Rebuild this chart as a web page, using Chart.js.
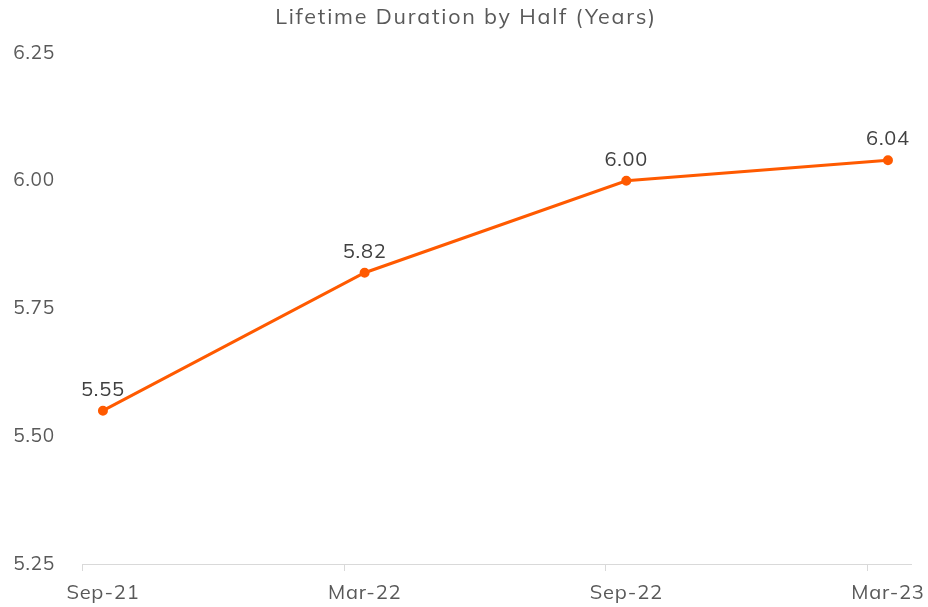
<!DOCTYPE html>
<html>
<head>
<meta charset="utf-8">
<script src="https://cdn.jsdelivr.net/npm/chart.js@4.4.1/dist/chart.umd.min.js"></script>
<style>
  html, body { margin: 0; padding: 0; background: #fff; }
  #wrap { width: 928px; height: 607px; }
</style>
</head>
<body>
<div id="wrap"><canvas id="durationChart"></canvas></div>
<script>
const halves = ['Sep-21', 'Mar-22', 'Sep-22', 'Mar-23'];
const durationYears = [5.55, 5.82, 6.00, 6.04];
const yTicks = [5.25, 5.50, 5.75, 6.00, 6.25];
const chartTitle = 'Lifetime Duration by Half (Years)';

const fontFamily = 'Mulish, "Noto Sans", sans-serif';

// slightly wider lettering, like the original font
const spacing = {
  id: 'spacing',
  beforeDraw(chart) { chart.ctx.letterSpacing = '0.8px'; },
  afterDraw(chart) { chart.ctx.letterSpacing = '0px'; }
};

// title drawn by hand so it can get its own letter spacing
const titleText = {
  id: 'titleText',
  afterDraw(chart) {
    const ctx = chart.ctx;
    ctx.save();
    ctx.letterSpacing = '1.8px';
    ctx.font = '21.5px ' + fontFamily;
    ctx.fillStyle = '#595959';
    ctx.textAlign = 'center';
    ctx.textBaseline = 'middle';
    ctx.fillText(chartTitle, chart.width / 2 + 2, 18);
    ctx.restore();
  }
};

// value labels above each point
const pointLabels = {
  id: 'pointLabels',
  afterDatasetsDraw(chart) {
    const ctx = chart.ctx;
    const meta = chart.getDatasetMeta(0);
    ctx.save();
    ctx.letterSpacing = '0.8px';
    ctx.font = '20px ' + fontFamily;
    ctx.fillStyle = '#404040';
    ctx.textAlign = 'center';
    ctx.textBaseline = 'middle';
    meta.data.forEach((pt, i) => {
      ctx.fillText(durationYears[i].toFixed(2), pt.x, pt.y - 21);
    });
    ctx.restore();
  }
};

// small tick marks on the x axis, sitting just left of each category
const xTickMarks = {
  id: 'xTickMarks',
  afterDraw(chart) {
    const x = chart.scales.x;
    const ctx = chart.ctx;
    ctx.save();
    ctx.strokeStyle = '#d9d9d9';
    ctx.lineWidth = 1;
    ctx.beginPath();
    halves.forEach((h, i) => {
      const px = Math.round(x.getPixelForValue(i - 0.08)) + 0.5;
      ctx.moveTo(px, x.top);
      ctx.lineTo(px, x.top + 7);
    });
    ctx.stroke();
    ctx.restore();
  }
};

new Chart(document.getElementById('durationChart'), {
  type: 'line',
  data: {
    datasets: [{
      label: 'Lifetime Duration',
      data: durationYears.map((v, i) => ({ x: i, y: v })),
      borderColor: '#FF5A00',
      backgroundColor: '#FF5A00',
      borderWidth: 3,
      pointRadius: 3.5,
      pointHoverRadius: 3.5,
      tension: 0
    }]
  },
  options: {
    responsive: true,
    maintainAspectRatio: false,
    animation: false,
    layout: { padding: { left: 0, right: 17, top: 53, bottom: 0 } },
    plugins: {
      legend: { display: false },
      tooltip: { enabled: false },
      title: { display: false }
    },
    scales: {
      x: {
        type: 'linear',
        min: -0.08,
        max: 3.088,
        afterBuildTicks: axis => { axis.ticks = halves.map((h, i) => ({ value: i })); },
        afterFit: axis => { axis.height = 43; axis.paddingLeft = 0; axis.paddingRight = 0; },
        ticks: {
          callback: v => halves[v],
          color: '#595959',
          font: { family: fontFamily, size: 20 },
          padding: 17,
          maxRotation: 0,
          autoSkip: false
        },
        grid: { display: false, drawTicks: false },
        border: { display: true, color: '#d9d9d9', width: 1 }
      },
      y: {
        min: 5.25,
        max: 6.25,
        afterBuildTicks: axis => { axis.ticks = yTicks.map(v => ({ value: v })); },
        afterFit: axis => { axis.width = 82; axis.paddingTop = 0; axis.paddingBottom = 0; },
        ticks: {
          callback: v => v.toFixed(2),
          color: '#595959',
          font: { family: fontFamily, size: 19 },
          padding: 27
        },
        grid: { display: false, drawTicks: false },
        border: { display: false }
      }
    }
  },
  plugins: [spacing, titleText, pointLabels, xTickMarks]
});
</script>
</body>
</html>
